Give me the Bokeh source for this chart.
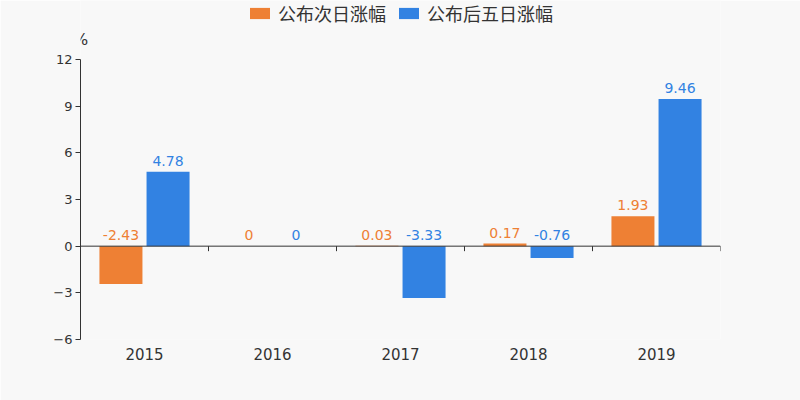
from bokeh.plotting import figure
from bokeh.models import (ColumnDataSource, FixedTicker, Span, Legend, LegendItem,
                          Label, LabelSet, Range1d)
from bokeh.core.properties import value
from bokeh.embed import file_html
from bokeh.resources import INLINE

years = ["2015", "2016", "2017", "2018", "2019"]
next_day = [-2.43, 0, 0.03, 0.17, 1.93]
five_day = [4.78, 0, -3.33, -0.76, 9.46]
series_names = ["公布次日涨幅", "公布后五日涨幅"]
y_ticks = [-6, -3, 0, 3, 6, 9, 12]

ORANGE = "#ee8034"
BLUE = "#3282e2"
BG = "#f8f8f8"
AX = "#333333"
FONT = "DejaVu Sans"

# frame spans from the canvas top to y=339; the axis itself covers -6..12 (280 px)
TOP_PAD_PX = 59
AXIS_PX = 280
ymin, ymax = min(y_ticks), max(y_ticks)
y_end = ymax + TOP_PAD_PX * (ymax - ymin) / AXIS_PX

p = figure(width=800, height=400, output_backend="svg", toolbar_location=None, title=None,
           x_range=Range1d(0, len(years)), y_range=Range1d(ymin, y_end),
           min_border_left=80, min_border_right=80, min_border_top=0, min_border_bottom=61,
           background_fill_color=BG, border_fill_color=BG, outline_line_color=None)
p.grid.visible = False

bw = 0.336
off = 0.184
centers = [i + 0.5 for i in range(len(years))]
src = ColumnDataSource(dict(
    xo=[c - off for c in centers], xb=[c + off for c in centers],
    o=next_day, b=five_day,
    oy=[max(v, 0) for v in next_day], by=[max(v, 0) for v in five_day],
    ot=[f"{v:g}" for v in next_day],
    bt=[f"{v:g}" for v in five_day],
))
r1 = p.vbar(x="xo", top="o", bottom=0, width=bw, source=src, fill_color=ORANGE, line_color=None)
r2 = p.vbar(x="xb", top="b", bottom=0, width=bw, source=src, fill_color=BLUE, line_color=None)

p.add_layout(LabelSet(x="xo", y="oy", text="ot", source=src, text_color=ORANGE,
                      text_align="center", text_baseline="alphabetic", y_offset=6,
                      text_font=value(FONT), text_font_size="14px"))
p.add_layout(LabelSet(x="xb", y="by", text="bt", source=src, text_color=BLUE,
                      text_align="center", text_baseline="alphabetic", y_offset=6,
                      text_font=value(FONT), text_font_size="14px"))

# zero axis line with boundary ticks
p.add_layout(Span(location=0, dimension="width", line_color=AX, line_width=1))
bounds = list(range(len(years) + 1))
tick_len = 5 * (ymax - ymin) / AXIS_PX
p.segment(x0=bounds, x1=bounds, y0=[0] * len(bounds), y1=[-tick_len] * len(bounds),
          line_color=AX, line_width=1)

# x axis labels
xa = p.xaxis[0]
xa.ticker = FixedTicker(ticks=centers)
xa.major_label_overrides = {c: y for c, y in zip(centers, years)}
xa.axis_line_color = None
xa.major_tick_line_color = None
xa.minor_tick_line_color = None
xa.major_tick_out = 0
xa.major_tick_in = 0
xa.major_label_standoff = 8
xa.major_label_text_font = FONT
xa.major_label_text_font_size = "15px"
xa.major_label_text_color = AX

# y axis
ya = p.yaxis[0]
ya.ticker = FixedTicker(ticks=y_ticks)
ya.bounds = (ymin, ymax)
ya.axis_line_color = AX
ya.major_tick_line_color = AX
ya.minor_tick_line_color = None
ya.major_tick_out = 5
ya.major_tick_in = 0
ya.major_label_standoff = 3
ya.major_label_text_font = FONT
ya.major_label_text_font_size = "13px"
ya.major_label_text_color = AX

# unit label
p.add_layout(Label(x=0, y=ymax, text="%", y_offset=20, text_align="center",
                   text_baseline="middle", text_font=FONT, text_font_size="16px",
                   text_color=AX))

legend = Legend(items=[LegendItem(label=series_names[0], renderers=[r1]),
                       LegendItem(label=series_names[1], renderers=[r2])],
                orientation="horizontal", location="top_center",
                glyph_width=25, glyph_height=14, label_height=20, label_standoff=6,
                spacing=10, padding=0, margin=0, border_line_color=None,
                background_fill_alpha=0, label_text_font="Noto Sans CJK SC",
                label_text_font_size="18px", label_text_color=AX)
p.add_layout(legend)

open("out.html", "w").write(file_html(p, INLINE))
